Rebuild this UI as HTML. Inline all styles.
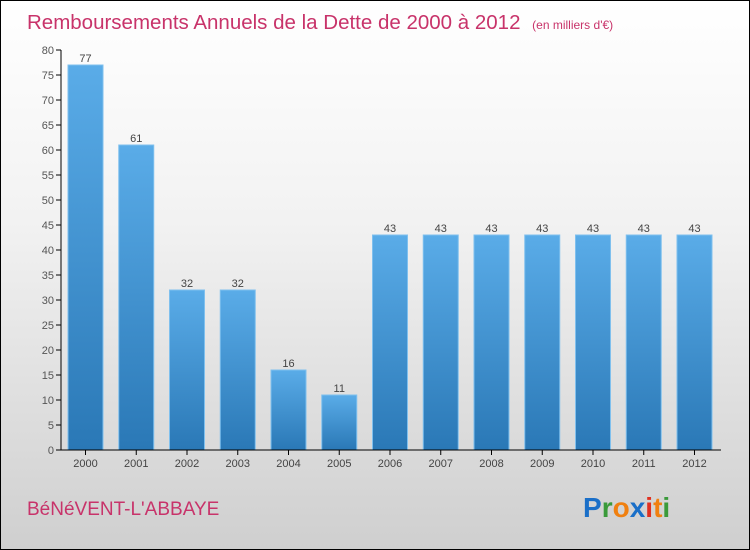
<!DOCTYPE html>
<html><head><meta charset="utf-8"><style>
body{margin:0}
#c{width:748px;height:548px;border:1px solid #000;background:linear-gradient(#fff,#f2f2f2 40%,#cfcfcf);position:relative;font-family:"Liberation Sans",sans-serif;overflow:hidden}
</style></head><body>
<div id="c">
<svg width="748" height="548" style="position:absolute;left:0;top:0" id="svg">
<defs><linearGradient id="g" x1="0" y1="0" x2="0" y2="1"><stop offset="0" stop-color="#5aace8"/><stop offset="1" stop-color="#2a78b6"/></linearGradient></defs>
<text x="26" y="28" font-size="20.5" fill="#c8336a">Remboursements Annuels de la Dette de 2000 à 2012 <tspan font-size="12" dx="6">(en milliers d'€)</tspan></text>
<text x="26" y="514" font-size="19" fill="#c8336a">BéNéVENT-L'ABBAYE</text>
<text x="582" y="516" font-size="28" font-weight="bold"><tspan fill="#1a6fc8">P</tspan><tspan fill="#3a9a3a">r</tspan><tspan fill="#f08010">o</tspan><tspan fill="#1a6fc8">x</tspan><tspan fill="#e03020">i</tspan><tspan fill="#f08010">t</tspan><tspan fill="#3a9a3a">i</tspan></text>
<g id="plot"></g>
</svg>
</div>
<script>
const categories=["2000","2001","2002","2003","2004","2005","2006","2007","2008","2009","2010","2011","2012"];
const values=[77,61,32,32,16,11,43,43,43,43,43,43,43];
const yTicks=[0,5,10,15,20,25,30,35,40,45,50,55,60,65,70,75,80];
const NS="http://www.w3.org/2000/svg";
const g=document.getElementById('plot');
const y=v=>449-v*5;
const x=i=>84.5+i*50.75;
function mk(t,a,txt){const e=document.createElementNS(NS,t);for(const k in a)e.setAttribute(k,a[k]);if(txt!==undefined)e.textContent=txt;g.appendChild(e);return e;}
yTicks.forEach(t=>{
 const l=mk('line',{x1:55,x2:60,y1:y(t),y2:y(t),stroke:'#000'});
 
 
 const tx=mk('text',{x:53,y:y(t)+4,'font-size':11,fill:'#555','text-anchor':'end'},t);
 
 
});
values.forEach((v,i)=>{
 const r=mk('rect',{x:x(i)-17.5,y:y(v),width:35,height:v*5,fill:'url(#g)',stroke:'#7fc0ee','stroke-width':1});
 
 
 const vt=mk('text',{x:x(i),y:y(v)-3,'font-size':11,fill:'#444','text-anchor':'middle'},v);
 
 
 const tk=mk('line',{x1:x(i),x2:x(i),y1:449,y2:454,stroke:'#000'});
 
 
 const ct=mk('text',{x:x(i),y:466,'font-size':11,fill:'#444','text-anchor':'middle'},categories[i]);
 
 
});
const ya=mk('line',{x1:60,x2:60,y1:y(80),y2:449,stroke:'#000'});


const xa=mk('line',{x1:60,x2:720,y1:449,y2:449,stroke:'#000'});


</script>
</body></html>
